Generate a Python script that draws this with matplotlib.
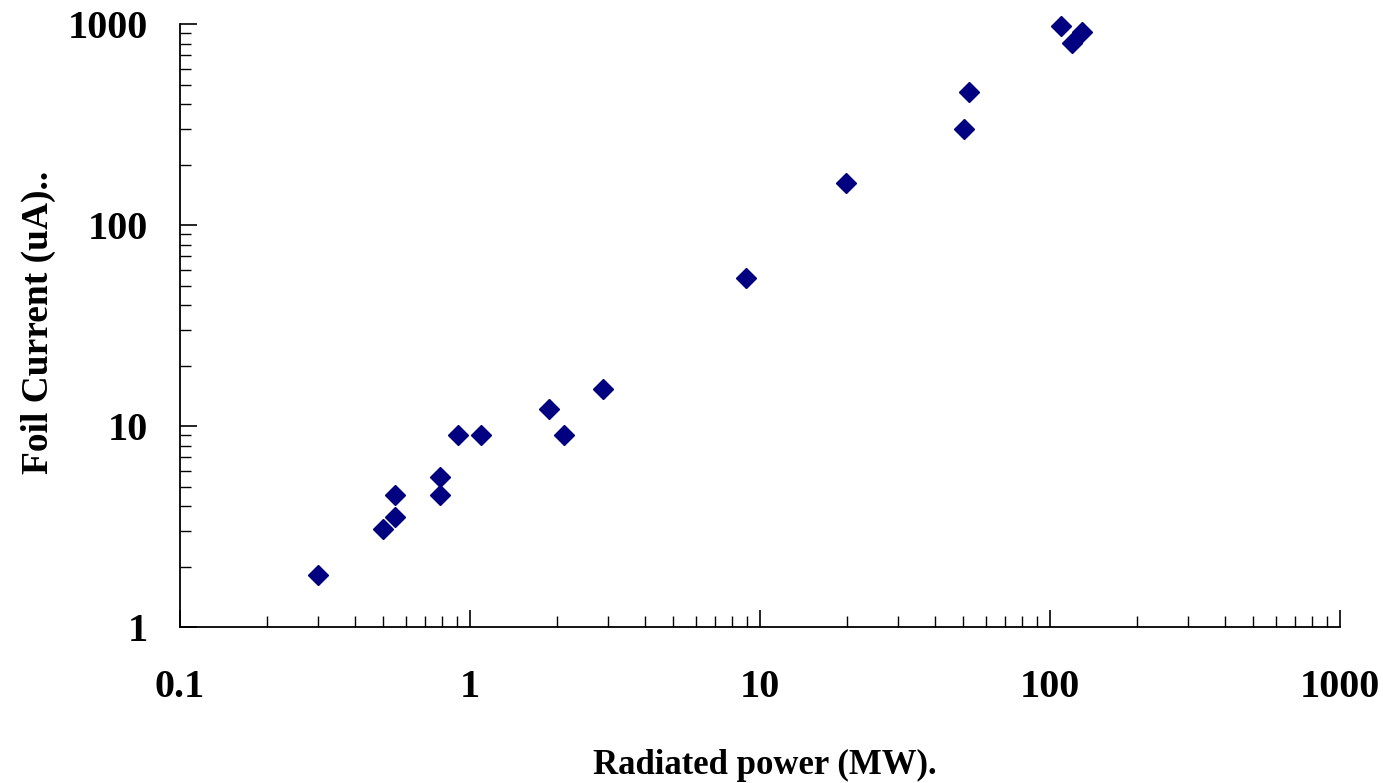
import matplotlib.pyplot as plt
from matplotlib.ticker import LogLocator, NullFormatter, FixedLocator, FixedFormatter

# radiated power (MW) vs foil current (uA)
power = [0.30, 0.50, 0.55, 0.55, 0.79, 0.79, 0.91, 1.09, 1.87, 2.11, 2.88,
         8.95, 19.8, 50.5, 52.6, 109, 119, 129]
current = [1.81, 3.07, 3.52, 4.53, 4.53, 5.55, 9.0, 9.0, 12.2, 9.0, 15.3,
           54.5, 162, 300, 460, 975, 805, 910]

xticks = [0.1, 1, 10, 100, 1000]
xlabels = ['0.1', '1', '10', '100', '1000']
yticks = [1, 10, 100, 1000]
ylabels = ['1', '10', '100', '1000']

plt.rcParams['font.family'] = ['Liberation Serif', 'DejaVu Serif']
plt.rcParams['font.weight'] = 'bold'

fig = plt.figure(figsize=(13.83, 7.83), dpi=100)
ax = fig.add_axes([0.1302, 0.1992, 0.8388, 0.7701])

ax.plot(power, current, linestyle='none', marker='D', markersize=9.8,
        color='#000080', clip_on=False)

ax.set_xscale('log')
ax.set_yscale('log')
ax.set_xlim(0.1, 1000)
ax.set_ylim(1, 1000)

ax.xaxis.set_major_locator(FixedLocator(xticks))
ax.xaxis.set_major_formatter(FixedFormatter(xlabels))
ax.yaxis.set_major_locator(FixedLocator(yticks))
ax.yaxis.set_major_formatter(FixedFormatter(ylabels))
ax.xaxis.set_minor_locator(LogLocator(base=10, subs=range(2, 10)))
ax.yaxis.set_minor_locator(LogLocator(base=10, subs=range(2, 10)))
ax.xaxis.set_minor_formatter(NullFormatter())
ax.yaxis.set_minor_formatter(NullFormatter())

ax.spines['top'].set_visible(False)
ax.spines['right'].set_visible(False)
ax.spines['left'].set_linewidth(1.3)
ax.spines['bottom'].set_linewidth(1.3)

ax.tick_params(which='major', direction='in', length=12, width=1.2,
               labelsize=29)
ax.tick_params(which='minor', direction='in', length=8, width=1.0)
ax.tick_params(axis='x', which='major', pad=30)
ax.tick_params(axis='y', which='major', pad=23)
for lab in ax.get_xticklabels() + ax.get_yticklabels():
    lab.set_fontweight('bold')

ax.set_xlabel('Radiated power (MW).', fontsize=25, fontweight='bold',
              va='center')
ax.xaxis.set_label_coords(0.504, -0.229)
ax.set_ylabel('Foil Current (uA)..', fontsize=27, fontweight='bold',
              va='center')
ax.yaxis.set_label_coords(-0.122, 0.506)

fig.savefig('out.png', dpi=100)
